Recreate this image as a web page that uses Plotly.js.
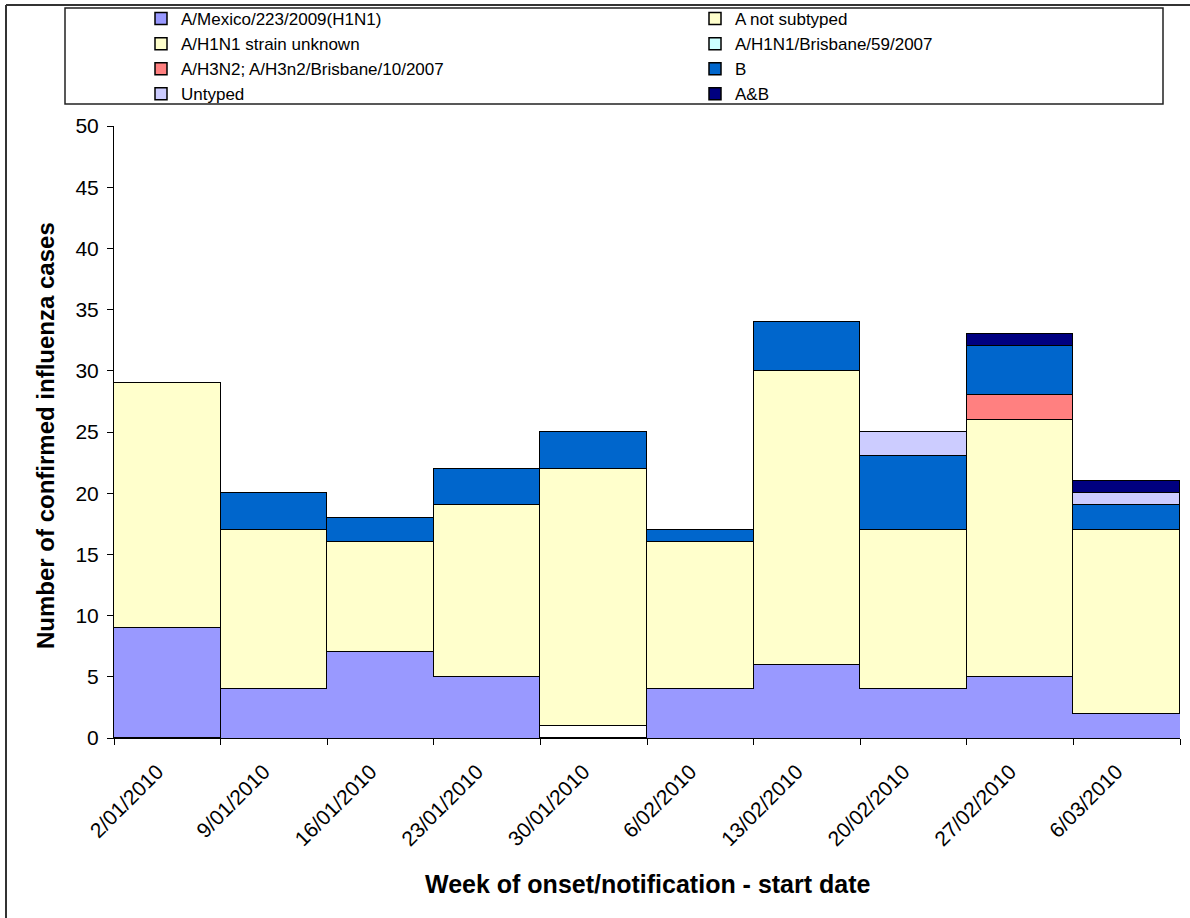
<!DOCTYPE html>
<html>
<head>
<meta charset="utf-8">
<script src="https://cdn.plot.ly/plotly-3.0.1.min.js"></script>
<style>
  html, body { margin: 0; padding: 0; background: #ffffff; }
  #chart { width: 1190px; height: 918px; }
</style>
</head>
<body>
<div id="chart"></div>
<script>
// Weekly confirmed influenza cases by type / subtype
const weeks = ['2/01/2010', '9/01/2010', '16/01/2010', '23/01/2010', '30/01/2010',
               '6/02/2010', '13/02/2010', '20/02/2010', '27/02/2010', '6/03/2010'];

const seriesNames = [
  'A/Mexico/223/2009(H1N1)',
  'A not subtyped',
  'A/H1N1 strain unknown',
  'A/H1N1/Brisbane/59/2007',
  'A/H3N2; A/H3n2/Brisbane/10/2007',
  'B',
  'Untyped',
  'A&B'
];

const mexico       = [9, 4, 7, 5, 1, 4, 6, 4, 5, 2];
const notSubtyped  = [20, 13, 9, 14, 21, 12, 24, 13, 21, 15];
const h1n1Unknown  = [0, 0, 0, 0, 0, 0, 0, 0, 0, 0];
const h1n1Brisbane = [0, 0, 0, 0, 0, 0, 0, 0, 0, 0];
const h3n2         = [0, 0, 0, 0, 0, 0, 0, 0, 2, 0];
const typeB        = [0, 3, 2, 3, 3, 1, 4, 6, 4, 2];
const untyped      = [0, 0, 0, 0, 0, 0, 0, 2, 0, 1];
const aAndB        = [0, 0, 0, 0, 0, 0, 0, 0, 1, 1];

const seriesValues = [mexico, notSubtyped, h1n1Unknown, h1n1Brisbane, h3n2, typeB, untyped, aAndB];
const seriesColors = ['#9999FF', '#FFFFCC', '#FFFFCC', '#CCFFFF', '#FF8080', '#0066CC', '#CCCCFF', '#000080'];

// Page geometry (pixels) used to place the legends, frame lines and titles
const W = 1190, H = 918;
const M = { l: 114, r: 10, t: 126, b: 180, autoexpand: false };
const pw = W - M.l - M.r, ph = H - M.t - M.b;
const px2x = p => (p - M.l) / pw;
const px2y = p => (H - M.b - p) / ph;

const FONT = 'Liberation Sans, Arial, sans-serif';
const legendFont = { family: FONT, size: 17, color: '#000000' };

const traces = seriesValues.map((vals, i) => {
  const t = {
    type: 'bar',
    name: seriesNames[i],
    x: weeks,
    y: vals,
    // two-column key: even series on the left, odd series on the right
    legend: i % 2 === 0 ? 'legend' : 'legend2',
    marker: {
      color: seriesColors[i],
      line: { color: '#000000', width: 1.5 }
    },
    hoverinfo: 'x+y+name'
  };
  if (i === 0) {
    // first series: mostly borderless fill, the 30/01 entry shown unfilled
    const outlined = [0, 4];
    t.marker.color = vals.map((v, k) => k === 4 ? '#FFFFFF' : seriesColors[0]);
    t.marker.line = {
      color: '#000000',
      width: vals.map((v, k) => outlined.includes(k) ? 1.5 : 0)
    };
  }
  return t;
});

const legendBase = {
  orientation: 'v',
  traceorder: 'normal',
  xanchor: 'left',
  yanchor: 'top',
  y: px2y(1),
  bgcolor: 'rgba(0,0,0,0)',
  borderwidth: 0,
  font: legendFont,
  itemclick: false,
  itemdoubleclick: false
};

const layout = {
  width: W,
  height: H,
  margin: M,
  paper_bgcolor: '#ffffff',
  plot_bgcolor: '#ffffff',
  font: { family: FONT, color: '#000000' },
  barmode: 'stack',
  bargap: 0,
  showlegend: true,
  legend: Object.assign({}, legendBase, { x: px2x(141) }),
  legend2: Object.assign({}, legendBase, { x: px2x(695) }),
  xaxis: {
    type: 'category',
    tickson: 'boundaries',
    ticks: 'outside',
    ticklen: 6,
    tickwidth: 1,
    tickcolor: '#000000',
    showline: true,
    linecolor: '#000000',
    linewidth: 1,
    showgrid: false,
    zeroline: false,
    tickangle: -45,
    ticklabelstandoff: 12,
    ticklabelshift: -10,
    tickfont: { family: FONT, size: 21, color: '#000000' },
    fixedrange: true
  },
  yaxis: {
    range: [0, 50],
    dtick: 5,
    ticks: 'outside',
    ticklen: 6,
    tickwidth: 1,
    tickcolor: '#000000',
    showline: true,
    linecolor: '#000000',
    linewidth: 1,
    showgrid: false,
    zeroline: false,
    ticklabelstandoff: 4,
    tickfont: { family: FONT, size: 21, color: '#000000' },
    fixedrange: true
  },
  shapes: [
    // legend frame
    { type: 'rect', xref: 'paper', yref: 'paper', layer: 'below',
      x0: px2x(65), x1: px2x(1163), y0: px2y(104), y1: px2y(8),
      line: { color: '#222222', width: 1.5 }, fillcolor: 'rgba(0,0,0,0)' },
    // outer frame, top and left edges
    { type: 'line', xref: 'paper', yref: 'paper',
      x0: px2x(6), x1: px2x(1190), y0: px2y(5), y1: px2y(5),
      line: { color: '#333333', width: 2 } },
    { type: 'line', xref: 'paper', yref: 'paper',
      x0: px2x(6), x1: px2x(6), y0: px2y(5), y1: px2y(918),
      line: { color: '#333333', width: 2 } }
  ],
  annotations: [
    { text: '<b>Number of confirmed influenza cases</b>', xref: 'paper', yref: 'paper',
      x: px2x(45), y: px2y(436), textangle: -90, showarrow: false,
      xanchor: 'center', yanchor: 'middle',
      font: { family: FONT, size: 24, color: '#000000' } },
    { text: '<b>Week of onset/notification - start date</b>', xref: 'paper', yref: 'paper',
      x: px2x(648), y: px2y(884), showarrow: false,
      xanchor: 'center', yanchor: 'middle',
      font: { family: FONT, size: 25, color: '#000000' } }
  ]
};

Plotly.newPlot('chart', traces, layout, { displayModeBar: false, responsive: false });
</script>
</body>
</html>
